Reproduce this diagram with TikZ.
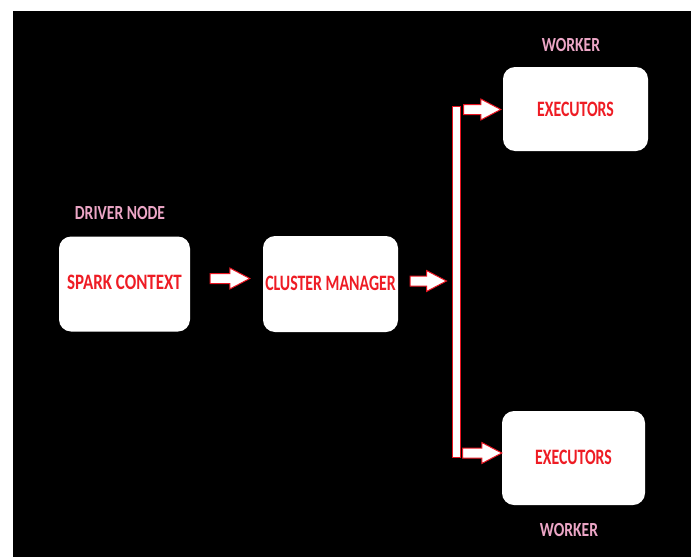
\documentclass[tikz,border=0pt]{standalone}
\usepackage{fontspec}
\setmainfont{Carlito}
\newfontfamily\boxfont{Carlito}[FakeStretch=0.77,UprightFont={* Bold}]
\newfontfamily\capfont{Carlito}[FakeStretch=0.78,UprightFont={* Bold}]
\usetikzlibrary{calc}
\definecolor{boxred}{RGB}{238,28,36}
\definecolor{labelpink}{RGB}{236,166,198}
\definecolor{edgered}{RGB}{232,20,32}

% narrower setting for the longer box titles
\newcommand\squeeze[2]{\scalebox{#1}[1]{#2}}

% white block arrow with a thin red outline, from tail coordinate #1 to tip coordinate #2
\newcommand\blockarrow[2]{%
  \draw[blockarrowstyle] let \p1=(#1), \p2=(#2) in
    (\x1,\y1+5pt) -- (\x2-20pt,\y1+5pt) -- (\x2-20pt,\y1+10.5pt) -- (\x2,\y1)
    -- (\x2-20pt,\y1-10.5pt) -- (\x2-20pt,\y1-5pt) -- (\x1,\y1-5pt) -- cycle;}

\begin{document}
\begin{tikzpicture}[x=1pt,y=-1pt,
  box/.style={fill=white, rounded corners=12pt, inner sep=0pt,
    text=boxred, font=\boxfont\fontsize{22}{22}\selectfont},
  label/.style={text=labelpink, inner sep=0pt, font=\capfont\fontsize{20}{20}\selectfont},
  blockarrowstyle/.style={fill=white, draw=edgered, line width=1pt, line join=miter},
  busbar/.style={fill=white, draw=edgered, line width=1pt, inner sep=0pt}]

\useasboundingbox (0,0) rectangle (691,557);
\fill[white] (0,0) rectangle (691,557);
\fill[black] (13,11) rectangle (691,557);

% boxes
\node[box, minimum width=131pt, minimum height=95pt] (spark) at (124.5,284) {\raisebox{4pt}{SPARK CONTEXT}};
\node[box, minimum width=135pt, minimum height=96pt] (cluster) at (330.5,284) {\raisebox{2pt}{\squeeze{0.935}{CLUSTER MANAGER}}};
\node[box, minimum width=145pt, minimum height=84pt] (exectop) at (575.5,109) {\squeeze{0.93}{EXECUTORS}};
\node[box, minimum width=143pt, minimum height=94pt] (execbot) at (573.5,458) {\raisebox{1pt}{\squeeze{0.93}{EXECUTORS}}};

% captions
\node[label] (driver) at (120,213) {DRIVER NODE};
\node[label] (workertop) at (571,45) {WORKER};
\node[label] (workerbot) at (569,530) {WORKER};

% vertical distribution bar
\node[busbar, minimum width=8pt, minimum height=351pt] (bus) at (456,281.5) {};

% arrow end points
\coordinate (a1tail) at ($(spark.east)+(20,-5.5)$);
\coordinate (a1tip) at ($(cluster.west)+(-13,-5.5)$);
\coordinate (a2tail) at ($(cluster.east)+(12,-3)$);
\coordinate (a2tip) at ($(bus.west |- a2tail)+(-5,0)$);
\coordinate (a3tip) at ($(exectop.west)+(-2,0.5)$);
\coordinate (a3tail) at ($(bus.east |- a3tip)+(3,0)$);
\coordinate (a4tip) at ($(execbot.west)+(0,-5)$);
\coordinate (a4tail) at ($(bus.east |- a4tip)+(2,0)$);

\blockarrow{a1tail}{a1tip}
\blockarrow{a2tail}{a2tip}
\blockarrow{a3tail}{a3tip}
\blockarrow{a4tail}{a4tip}
\end{tikzpicture}
\end{document}
